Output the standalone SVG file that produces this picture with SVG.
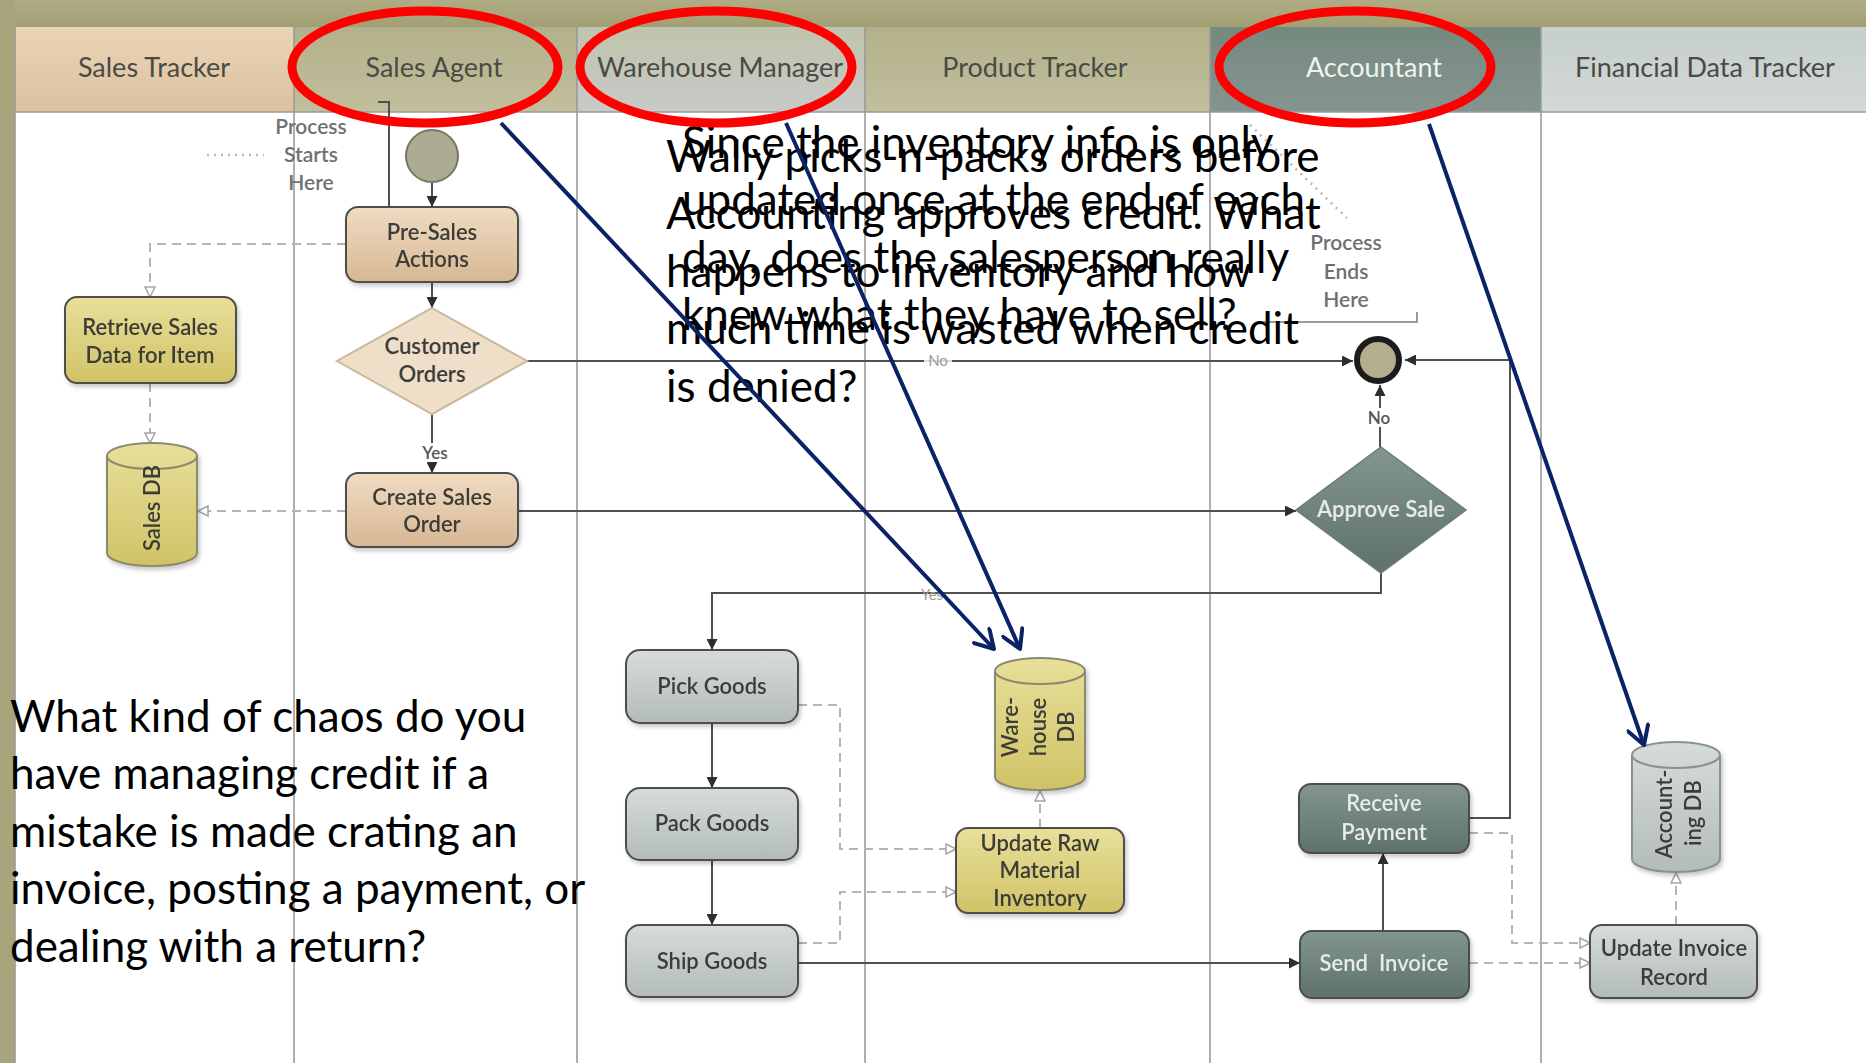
<svg xmlns="http://www.w3.org/2000/svg" width="1866" height="1063" viewBox="0 0 1866 1063">
  <style>
    text { font-family: Lato, "Liberation Sans", "DejaVu Sans", sans-serif; }
    .hdr { font-size: 27px; fill: #4a4a44; text-anchor: middle; }
    .hdr-light { fill: #eef3f0; }
    .nt { font-size: 22px; fill: #3c3c38; text-anchor: middle; font-weight: 600; }
    .nt-light { fill: #e6ece9; }
    .note { font-size: 21px; fill: #707070; text-anchor: middle; font-weight: 600; }
    .tag { font-size: 17px; fill: #555; text-anchor: middle; font-weight: 600; }
    .tag-faint { font-size: 15px; fill: #9a9a9a; text-anchor: middle; }
    .callout { font-size: 44px; fill: #000; }
    .lane { stroke: #9a9a9a; stroke-width: 1.6; }
    .flow { stroke: #505050; stroke-width: 2; fill: none; }
    .data { stroke: #b4b4b4; stroke-width: 2; stroke-dasharray: 9 6; fill: none; }
    .dots { stroke: #b8b8b8; stroke-width: 2.5; stroke-dasharray: 2 5; fill: none; }
    .box { stroke: #4e4e4a; stroke-width: 2; }
    .ring { fill: none; stroke: #ff0000; stroke-width: 9; }
    .pointer { stroke: #0b2366; stroke-width: 4; fill: none; }
  </style>
  <defs>
    <linearGradient id="gPeach" x1="0" y1="0" x2="0" y2="1">
      <stop offset="0" stop-color="#efdcc3"/>
      <stop offset="1" stop-color="#d8b793"/>
    </linearGradient>
    <linearGradient id="gYellow" x1="0" y1="0" x2="0" y2="1">
      <stop offset="0" stop-color="#e8df9a"/>
      <stop offset="1" stop-color="#d0c366"/>
    </linearGradient>
    <linearGradient id="gGray" x1="0" y1="0" x2="0" y2="1">
      <stop offset="0" stop-color="#d6dcdb"/>
      <stop offset="1" stop-color="#b3bcbb"/>
    </linearGradient>
    <linearGradient id="gSlate" x1="0" y1="0" x2="0" y2="1">
      <stop offset="0" stop-color="#82968f"/>
      <stop offset="1" stop-color="#5e716b"/>
    </linearGradient>
    <linearGradient id="gBand" x1="0" y1="0" x2="0" y2="1">
      <stop offset="0" stop-color="#b0ad85"/>
      <stop offset="1" stop-color="#a39f74"/>
    </linearGradient>
    <linearGradient id="hPeach" x1="0" y1="0" x2="0" y2="1">
      <stop offset="0" stop-color="#ead4b6"/>
      <stop offset="1" stop-color="#dcc19f"/>
    </linearGradient>
    <linearGradient id="hKhaki" x1="0" y1="0" x2="0" y2="1">
      <stop offset="0" stop-color="#b3b18b"/>
      <stop offset="1" stop-color="#c1bf9c"/>
    </linearGradient>
    <linearGradient id="hSilver" x1="0" y1="0" x2="0" y2="1">
      <stop offset="0" stop-color="#bfc4ad"/>
      <stop offset="1" stop-color="#c9c9c7"/>
    </linearGradient>
    <linearGradient id="hSlate" x1="0" y1="0" x2="0" y2="1">
      <stop offset="0" stop-color="#76897f"/>
      <stop offset="1" stop-color="#84958f"/>
    </linearGradient>
    <linearGradient id="hIce" x1="0" y1="0" x2="0" y2="1">
      <stop offset="0" stop-color="#c6cfcb"/>
      <stop offset="1" stop-color="#d2d8d6"/>
    </linearGradient>
    <filter id="shadow" x="-10%" y="-10%" width="125%" height="130%">
      <feDropShadow dx="2" dy="3" stdDeviation="2" flood-color="#000" flood-opacity="0.22"/>
    </filter>
    <marker id="arrow" viewBox="0 0 10 10" refX="10" refY="5" markerWidth="11" markerHeight="11" markerUnits="userSpaceOnUse" orient="auto">
      <path d="M0,0 L10,5 L0,10 Z" fill="#2e2e2e"/>
    </marker>
    <marker id="hollow" viewBox="0 0 12 12" refX="11" refY="6" markerWidth="12" markerHeight="12" markerUnits="userSpaceOnUse" orient="auto">
      <path d="M1,1 L11,6 L1,11 Z" fill="#fff" stroke="#a8a8a8" stroke-width="1.6"/>
    </marker>
    <marker id="chevron" viewBox="0 0 24 24" refX="21" refY="12" markerWidth="24" markerHeight="24" markerUnits="userSpaceOnUse" orient="auto">
      <path d="M3,1.5 L21,12 L3,22.5" fill="none" stroke="#0b2366" stroke-width="4" stroke-linecap="round" stroke-linejoin="round"/>
    </marker>
  </defs>

  <!-- page frame -->
  <rect width="1866" height="1063" fill="#ffffff"/>
  <rect x="0" y="0" width="1866" height="27" fill="url(#gBand)"/>
  <rect x="0" y="0" width="15" height="1063" fill="#a8a47b"/>

  <!-- lane headers -->
  <g id="headers">
    <rect x="15" y="27" width="279" height="85" fill="url(#hPeach)"/>
    <rect x="294" y="27" width="283" height="85" fill="url(#hKhaki)"/>
    <rect x="577" y="27" width="288" height="85" fill="url(#hSilver)"/>
    <rect x="865" y="27" width="345" height="85" fill="url(#hKhaki)"/>
    <rect x="1210" y="27" width="331" height="85" fill="url(#hSlate)"/>
    <rect x="1541" y="27" width="325" height="85" fill="url(#hIce)"/>
    <text class="hdr" x="154" y="77">Sales Tracker</text>
    <text class="hdr" x="434" y="77">Sales Agent</text>
    <text class="hdr" x="720" y="77">Warehouse Manager</text>
    <text class="hdr" x="1035" y="77">Product Tracker</text>
    <text class="hdr hdr-light" x="1374" y="77">Accountant</text>
    <text class="hdr" x="1705" y="77">Financial Data Tracker</text>
  </g>

  <!-- lane dividers -->
  <g id="lanes">
    <line class="lane" x1="15" y1="112" x2="1866" y2="112"/>
    <line class="lane" x1="15" y1="27" x2="15" y2="1063"/>
    <line class="lane" x1="294" y1="27" x2="294" y2="1063"/>
    <line class="lane" x1="577" y1="27" x2="577" y2="1063"/>
    <line class="lane" x1="865" y1="27" x2="865" y2="1063"/>
    <line class="lane" x1="1210" y1="27" x2="1210" y2="1063"/>
    <line class="lane" x1="1541" y1="27" x2="1541" y2="1063"/>
  </g>

  <!-- annotations of the swimlane chart -->
  <g id="start-note">
    <path class="dots" d="M207,155 H264"/>
    <text class="note" x="311" y="134">Process</text>
    <text class="note" x="311" y="162">Starts</text>
    <text class="note" x="311" y="190">Here</text>
  </g>
  <g id="end-note">
    <path class="dots" d="M1250,125 L1347,218"/>
    <text class="note" x="1346" y="250">Process</text>
    <text class="note" x="1346" y="279">Ends</text>
    <text class="note" x="1346" y="307">Here</text>
    <path d="M1262,322 H1417 V312" fill="none" stroke="#9a9a9a" stroke-width="2"/>
  </g>

  <!-- connectors -->
  <g id="connectors">
    <path class="flow" d="M378,102 H389 V207"/>
    <path class="flow" d="M432,183 V207" marker-end="url(#arrow)"/>
    <path class="flow" d="M432,282 V308" marker-end="url(#arrow)"/>
    <path class="flow" d="M526,361 H1353" marker-end="url(#arrow)"/>
    <path class="flow" d="M432,414 V473" marker-end="url(#arrow)"/>
    <path class="flow" d="M518,511 H1296" marker-end="url(#arrow)"/>
    <path class="flow" d="M1380,447 V385" marker-end="url(#arrow)"/>
    <path class="flow" d="M1381,573 V593 H712 V650" marker-end="url(#arrow)"/>
    <path class="flow" d="M712,723 V788" marker-end="url(#arrow)"/>
    <path class="flow" d="M712,860 V925" marker-end="url(#arrow)"/>
    <path class="flow" d="M798,963 H1300" marker-end="url(#arrow)"/>
    <path class="flow" d="M1383,931 V853" marker-end="url(#arrow)"/>
    <path class="flow" d="M1469,818 H1510 V360 H1405" marker-end="url(#arrow)"/>

    <path class="data" d="M346,244 H150 V297" marker-end="url(#hollow)"/>
    <path class="data" d="M150,383 V443" marker-end="url(#hollow)"/>
    <path class="data" d="M346,511 H198" marker-end="url(#hollow)"/>
    <path class="data" d="M798,705 H840 V849 H956" marker-end="url(#hollow)"/>
    <path class="data" d="M798,943 H840 V892 H956" marker-end="url(#hollow)"/>
    <path class="data" d="M1040,828 V791" marker-end="url(#hollow)"/>
    <path class="data" d="M1469,833 H1512 V943 H1590" marker-end="url(#hollow)"/>
    <path class="data" d="M1469,963 H1590" marker-end="url(#hollow)"/>
    <path class="data" d="M1676,925 V873" marker-end="url(#hollow)"/>

    <rect x="924" y="351" width="28" height="18" fill="#fff" opacity="0.8"/>
    <text class="tag-faint" x="938" y="366">No</text>
    <rect x="420" y="443" width="30" height="19" fill="#fff"/>
    <text class="tag" x="435" y="459">Yes</text>
    <rect x="1366" y="408" width="26" height="19" fill="#fff"/>
    <text class="tag" x="1379" y="424">No</text>
    <text class="tag-faint" x="932" y="600">Yes</text>
  </g>

  <!-- nodes -->
  <g id="node-start">
    <circle cx="432" cy="156" r="26" fill="#adab91" stroke="#777766" stroke-width="2"/>
  </g>
  <g id="node-end">
    <circle cx="1378" cy="360" r="21" fill="#b3ae8e" stroke="#1c1c1c" stroke-width="6"/>
  </g>
  <g id="node-pre-sales" filter="url(#shadow)">
    <rect class="box" x="346" y="207" width="172" height="75" rx="12" fill="url(#gPeach)"/>
    <text class="nt" x="432" y="240">Pre-Sales</text>
    <text class="nt" x="432" y="267">Actions</text>
  </g>
  <g id="node-customer-orders">
    <polygon points="432,308 527,361 432,414 337,361" fill="#efdec8" stroke="#c9b89e" stroke-width="2"/>
    <text class="nt" x="432" y="354">Customer</text>
    <text class="nt" x="432" y="382">Orders</text>
  </g>
  <g id="node-create-sales-order" filter="url(#shadow)">
    <rect class="box" x="346" y="473" width="172" height="74" rx="12" fill="url(#gPeach)"/>
    <text class="nt" x="432" y="505">Create Sales</text>
    <text class="nt" x="432" y="532">Order</text>
  </g>
  <g id="node-retrieve-sales-data" filter="url(#shadow)">
    <rect class="box" x="65" y="297" width="171" height="86" rx="12" fill="url(#gYellow)"/>
    <text class="nt" x="150" y="335">Retrieve Sales</text>
    <text class="nt" x="150" y="363">Data for Item</text>
  </g>
  <g id="node-sales-db" filter="url(#shadow)">
    <path d="M107,456 A45,13 0 0 1 197,456 V553 A45,13 0 0 1 107,553 Z" fill="url(#gYellow)" stroke="#8a8a70" stroke-width="2"/>
    <path d="M107,456 A45,13 0 0 0 197,456" fill="none" stroke="#8a8a70" stroke-width="2"/>
    <text class="nt" transform="translate(160,508) rotate(-90)" x="0" y="0">Sales DB</text>
  </g>
  <g id="node-approve-sale">
    <polygon points="1381,447 1466,510 1381,573 1296,510" fill="url(#gSlate)" stroke="#6a7c76" stroke-width="1.5"/>
    <text class="nt nt-light" x="1381" y="517">Approve Sale</text>
  </g>
  <g id="node-pick-goods" filter="url(#shadow)">
    <rect class="box" x="626" y="650" width="172" height="73" rx="14" fill="url(#gGray)"/>
    <text class="nt" x="712" y="694">Pick Goods</text>
  </g>
  <g id="node-pack-goods" filter="url(#shadow)">
    <rect class="box" x="626" y="788" width="172" height="72" rx="14" fill="url(#gGray)"/>
    <text class="nt" x="712" y="831">Pack Goods</text>
  </g>
  <g id="node-ship-goods" filter="url(#shadow)">
    <rect class="box" x="626" y="925" width="172" height="72" rx="14" fill="url(#gGray)"/>
    <text class="nt" x="712" y="969">Ship Goods</text>
  </g>
  <g id="node-warehouse-db" filter="url(#shadow)">
    <path d="M995,671 A45,13 0 0 1 1085,671 V777 A45,13 0 0 1 995,777 Z" fill="url(#gYellow)" stroke="#8a8a70" stroke-width="2"/>
    <path d="M995,671 A45,13 0 0 0 1085,671" fill="none" stroke="#8a8a70" stroke-width="2"/>
    <text class="nt" transform="translate(1018,727) rotate(-90)" x="0" y="0">Ware-</text>
    <text class="nt" transform="translate(1046,727) rotate(-90)" x="0" y="0">house</text>
    <text class="nt" transform="translate(1074,727) rotate(-90)" x="0" y="0">DB</text>
  </g>
  <g id="node-update-raw-material" filter="url(#shadow)">
    <rect class="box" x="956" y="828" width="168" height="85" rx="12" fill="url(#gYellow)"/>
    <text class="nt" x="1040" y="851">Update Raw</text>
    <text class="nt" x="1040" y="878">Material</text>
    <text class="nt" x="1040" y="906">Inventory</text>
  </g>
  <g id="node-receive-payment" filter="url(#shadow)">
    <rect class="box" x="1299" y="784" width="170" height="69" rx="12" fill="url(#gSlate)"/>
    <text class="nt nt-light" x="1384" y="811">Receive</text>
    <text class="nt nt-light" x="1384" y="840">Payment</text>
  </g>
  <g id="node-send-invoice" filter="url(#shadow)">
    <rect class="box" x="1300" y="931" width="169" height="67" rx="12" fill="url(#gSlate)"/>
    <text class="nt nt-light" x="1384" y="971" xml:space="preserve">Send  Invoice</text>
  </g>
  <g id="node-accounting-db" filter="url(#shadow)">
    <path d="M1632,755 A44,13 0 0 1 1720,755 V859 A44,13 0 0 1 1632,859 Z" fill="url(#gGray)" stroke="#8a9090" stroke-width="2"/>
    <path d="M1632,755 A44,13 0 0 0 1720,755" fill="none" stroke="#8a9090" stroke-width="2"/>
    <text class="nt" transform="translate(1672,814) rotate(-90)" x="0" y="0">Account-</text>
    <text class="nt" transform="translate(1701,813) rotate(-90)" x="0" y="0">ing DB</text>
  </g>
  <g id="node-update-invoice-record" filter="url(#shadow)">
    <rect class="box" x="1590" y="925" width="167" height="73" rx="12" fill="url(#gGray)"/>
    <text class="nt" x="1674" y="956">Update Invoice</text>
    <text class="nt" x="1674" y="985">Record</text>
  </g>

  <!-- commentary text laid over the chart -->
  <g id="comment-credit" class="callout" xml:space="preserve">
    <text x="10" y="732">What kind of chaos do you</text>
    <text x="10" y="789">have managing credit if a</text>
    <text x="10" y="847">mistake is made crating an</text>
    <text x="10" y="904">invoice, posting a payment, or</text>
    <text x="10" y="962">dealing with a return?</text>
  </g>
  <g id="comment-picking" class="callout" xml:space="preserve">
    <text x="666" y="172">Wally picks-n-packs orders  before</text>
    <text x="666" y="229">Accounting approves credit.  What</text>
    <text x="666" y="287">happens to inventory and how</text>
    <text x="666" y="344">much time is wasted when credit</text>
    <text x="666" y="402">is denied?</text>
  </g>
  <g id="comment-inventory" class="callout" xml:space="preserve">
    <text x="682" y="158">Since the inventory info is only</text>
    <text x="682" y="215">updated once at the end of each</text>
    <text x="682" y="273">day, does the salesperson really</text>
    <text x="682" y="330">knew what they have to sell?</text>
  </g>

  <!-- highlight rings on lane headers -->
  <g id="highlights">
    <ellipse class="ring" cx="425" cy="67" rx="133" ry="56"/>
    <ellipse class="ring" cx="716" cy="67" rx="136" ry="56"/>
    <ellipse class="ring" cx="1355" cy="67" rx="136" ry="56"/>
  </g>

  <!-- pointers from roles to data stores -->
  <g id="pointers">
    <line class="pointer" x1="501" y1="123" x2="994" y2="649" marker-end="url(#chevron)"/>
    <line class="pointer" x1="786" y1="123" x2="1020" y2="649" marker-end="url(#chevron)"/>
    <line class="pointer" x1="1429" y1="124" x2="1644" y2="745" marker-end="url(#chevron)"/>
  </g>
</svg>
